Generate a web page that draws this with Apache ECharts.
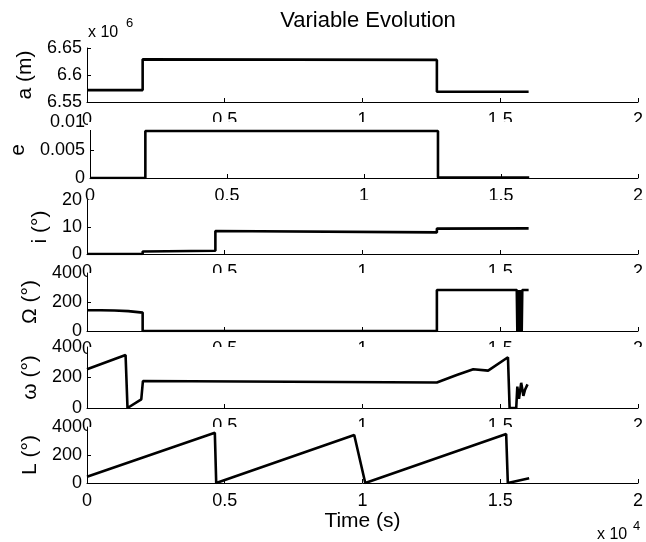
<!DOCTYPE html>
<html><head><meta charset="utf-8">
<script src="https://cdn.jsdelivr.net/npm/echarts@6/dist/echarts.min.js"></script>
<style>html,body{margin:0;padding:0;background:#fff}#c{width:646px;height:542px}</style>
</head><body><div id="c"></div>
<script>
// ---- data (time in seconds) ----
const xTickLabels = ['0', '0.5', '1', '1.5', '2'];
const aTime  = [0, 2020, 2020, 12700, 12700, 16030];
const aVals  = [6572000, 6572000, 6629000, 6628000, 6569000, 6569000];
const eTime  = [0, 2020, 2020, 12700, 12700, 16030];
const eVals  = [0, 0, 0.0084, 0.0084, 0.0001, 0.0001];
const iTime  = [0, 2020, 2020, 4660, 4660, 12700, 12700, 16030];
const iVals  = [0, 0, 0.9, 1.2, 8.5, 8.0, 9.4, 9.5];
const raanTime = [0, 500, 1000, 1500, 2020, 2020, 12700, 12700, 15600, 15620, 15640, 15660, 15680, 15700, 15720, 15740, 15760, 15780, 15800, 16030];
const raanVals = [143, 143, 141, 137, 127, 0, 0, 283, 283, 0, 283, 0, 283, 0, 283, 0, 283, 0, 283, 283];
const argpTime = [0, 1400, 1470, 1970, 2030, 12700, 13420, 14020, 14560, 15280, 15340, 15580, 15620, 15680, 15760, 15840, 15900, 15990];
const argpVals = [254, 348, 0, 57, 177, 167, 216, 254, 245, 333, 0, 0, 140, 60, 165, 80, 120, 155];
const LTime  = [0, 4640, 4690, 9700, 10100, 15215, 15275, 16050];
const LVals  = [45, 359, 0, 343, 0, 350, 0, 34];

const yNames = ['a (m)', 'e', 'i (°)', 'Ω (°)', 'ω (°)', 'L (°)'];
const yMins = [6550000, 0, 0, 0, 0, 0];
const yMaxs = [6650000, 0.01, 20, 400, 400, 400];
const yIntervals = [50000, 0.005, 10, 200, 200, 200];

const series = [[aTime, aVals], [eTime, eVals], [iTime, iVals], [raanTime, raanVals], [argpTime, argpVals], [LTime, LVals]];

// ---- layout ----
const FONT = "'Liberation Sans', Arial, Helvetica, sans-serif";
const panelTop = [48, 122, 200, 273, 347, 427];
const panelH   = [54, 56, 54, 58, 61, 56];
const nameGaps = [47, 61, 28, 41, 40, 41];

const grid = [], xAxis = [], yAxis = [], ser = [];
for (let k = 0; k < 6; k++) {
  grid.push({left: 87, right: 3, top: panelTop[k], height: panelH[k], containLabel: false});
  const xa = {
    type: 'value', gridIndex: k, min: 0, max: 20000, interval: 5000,
    axisLine: {show: true, onZero: false, lineStyle: {color: '#000', width: 1}},
    axisTick: {show: true, inside: true, length: 4, lineStyle: {color: '#000'}},
    axisLabel: {color: '#000', fontSize: 18, fontFamily: FONT, margin: 9, showMinLabel: true, showMaxLabel: true,
      formatter: v => xTickLabels[Math.round(v / 5000)]},
    splitLine: {show: false}
  };
  if (k === 5) {
    xa.name = 'Time (s)'; xa.nameLocation = 'middle'; xa.nameGap = 28;
    xa.nameTextStyle = {color: '#000', fontSize: 21, fontFamily: FONT, verticalAlign: 'top'};
  }
  xAxis.push(xa);
  yAxis.push({
    type: 'value', gridIndex: k, min: yMins[k], max: yMaxs[k], interval: yIntervals[k],
    name: yNames[k], nameLocation: 'middle', nameGap: nameGaps[k], nameRotate: 90,
    nameTextStyle: {color: '#000', fontSize: 21, fontFamily: FONT},
    axisLine: {show: true, onZero: false, lineStyle: {color: '#000', width: 1}},
    axisTick: {show: true, inside: true, length: 4, lineStyle: {color: '#000'}},
    axisLabel: {color: '#000', fontSize: 18, fontFamily: FONT, margin: 5, showMinLabel: true, showMaxLabel: true,
      formatter: k === 0 ? (v => String(+(v / 1e6).toFixed(2))) : (v => String(+v.toFixed(4)))},
    splitLine: {show: false}
  });
  const [t, v] = series[k];
  ser.push({
    type: 'line', xAxisIndex: k, yAxisIndex: k, showSymbol: false, symbol: 'none', z: 3,
    lineStyle: {color: '#000', width: 2.6}, data: t.map((x, j) => [x, v[j]])
  });
}

const graphic = [
  {type: 'text', x: 368, y: 21, z: 5, style: {text: 'Variable Evolution', fontSize: 22, fontFamily: FONT, fill: '#000', textAlign: 'center', textVerticalAlign: 'middle'}},
  {type: 'text', x: 88, y: 33, z: 5, style: {text: 'x 10', fontSize: 16, fontFamily: FONT, fill: '#000', textAlign: 'left', textVerticalAlign: 'middle'}},
  {type: 'text', x: 126, y: 23, z: 5, style: {text: '6', fontSize: 13, fontFamily: FONT, fill: '#000', textAlign: 'left', textVerticalAlign: 'middle'}},
  {type: 'text', x: 597, y: 535, z: 5, style: {text: 'x 10', fontSize: 16, fontFamily: FONT, fill: '#000', textAlign: 'left', textVerticalAlign: 'middle'}},
  {type: 'text', x: 633, y: 526, z: 5, style: {text: '4', fontSize: 13, fontFamily: FONT, fill: '#000', textAlign: 'left', textVerticalAlign: 'middle'}}
];
for (let k = 1; k < 6; k++) {
  graphic.push({type: 'rect', z: 1, shape: {x: 88, y: panelTop[k], width: 560, height: 8}, style: {fill: '#fff'}});
}

const chart = echarts.init(document.getElementById('c'), null, {renderer: 'canvas'});
chart.setOption({animation: false, backgroundColor: '#fff', grid, xAxis, yAxis, series: ser, graphic});
</script></body></html>
